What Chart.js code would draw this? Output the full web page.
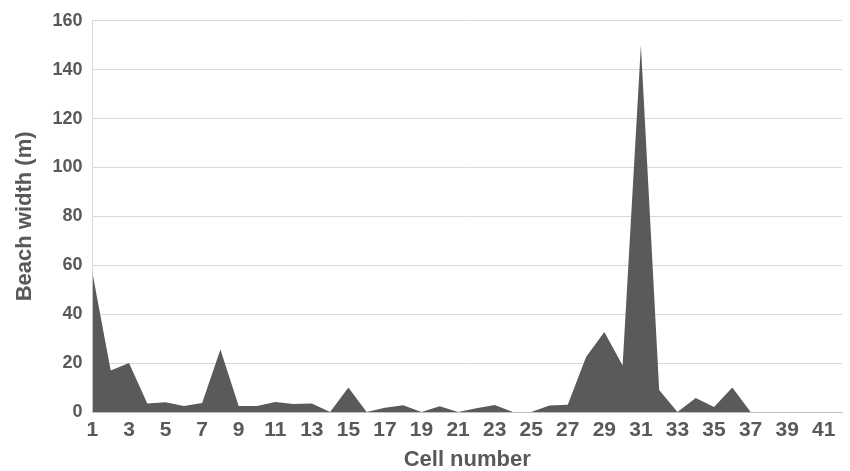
<!DOCTYPE html>
<html>
<head>
<meta charset="utf-8">
<script src="https://cdn.jsdelivr.net/npm/chart.js@4"></script>
<style>
    body { margin: 0; background: #fff; }
    #wrap { width: 850px; height: 471px; position: relative; }
</style>
</head>
<body>
<div id="wrap"><canvas id="chart"></canvas></div>
<script>
// Cell numbers 1..42
const cells = [1, 2, 3, 4, 5, 6, 7, 8, 9, 10, 11, 12, 13, 14, 15, 16, 17, 18, 19, 20, 21,
    22, 23, 24, 25, 26, 27, 28, 29, 30, 31, 32, 33, 34, 35, 36, 37, 38, 39, 40, 41, 42];

// Beach width (m) per cell
const beachWidth = [57, 17, 20, 3.5, 4, 2.5, 3.7, 25.6, 2.5, 2.5, 4.1, 3.3, 3.5, 0, 10, 0,
    1.7, 2.8, 0, 2.4, 0, 1.5, 2.9, 0, 0, 2.7, 3, 22.5, 32.7, 19, 150, 9, 0, 5.7, 2, 10,
    0, 0, 0, 0, 0, 0];

const yTicks = [0, 20, 40, 60, 80, 100, 120, 140, 160];

const textGray = '#595959';
const fillGray = '#5a5a5a';

new Chart(document.getElementById('chart'), {
    type: 'line',
    data: {
        labels: cells,
        datasets: [{
            data: beachWidth,
            fill: 'origin',
            backgroundColor: fillGray,
            borderColor: fillGray,
            borderWidth: 0,
            pointRadius: 0,
            tension: 0
        }]
    },
    options: {
        responsive: true,
        maintainAspectRatio: false,
        animation: false,
        layout: { padding: { top: 10, right: 2, left: 6, bottom: 0 } },
        plugins: { legend: { display: false }, tooltip: { enabled: false } },
        scales: {
            x: {
                offset: false,
                grid: { display: false, drawTicks: false },
                border: { color: '#bfbfbf', width: 1 },
                ticks: {
                    autoSkip: false,
                    maxRotation: 0,
                    padding: 8,
                    color: textGray,
                    font: { family: 'Liberation Sans', size: 21, weight: 'bold', lineHeight: 1 },
                    callback: function(val, i) {
                        const c = cells[i];
                        return (c % 2 === 1) ? String(c) : '';
                    }
                },
                title: {
                    display: true,
                    text: 'Cell number',
                    color: textGray,
                    padding: { top: 0, bottom: 0 },
                    font: { family: 'Liberation Sans', size: 22, weight: 'bold', lineHeight: 1 }
                }
            },
            y: {
                min: 0,
                max: 160,
                afterBuildTicks: function(axis) {
                    axis.ticks = yTicks.map(v => ({ value: v }));
                },
                grid: { color: '#d9d9d9', lineWidth: 1, drawTicks: false },
                border: { color: '#d9d9d9', width: 1 },
                ticks: {
                    padding: 10,
                    color: textGray,
                    font: { family: 'Liberation Sans', size: 18, weight: 'bold' }
                },
                title: {
                    display: true,
                    text: 'Beach width (m)',
                    color: textGray,
                    padding: { top: 6, bottom: 4 },
                    font: { family: 'Liberation Sans', size: 22, weight: 'bold' }
                }
            }
        }
    }
});
</script>
</body>
</html>
